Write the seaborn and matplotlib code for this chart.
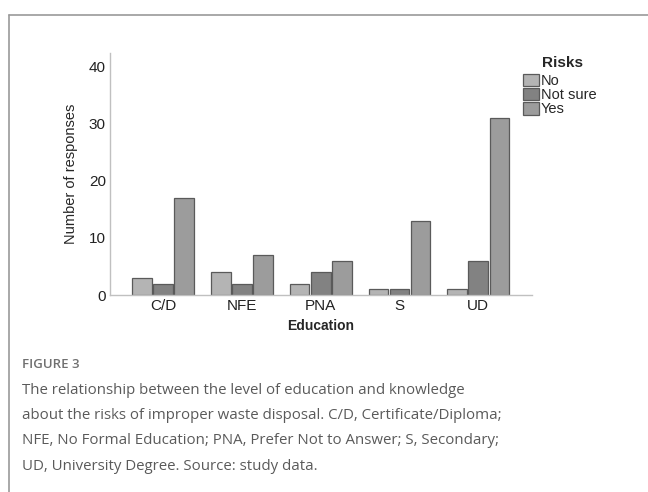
import pandas as pd
import matplotlib.pyplot as plt
import seaborn as sns
from matplotlib.patches import Patch
from matplotlib.lines import Line2D

# data
education = ['C/D', 'NFE', 'PNA', 'S', 'UD']
risks = ['No', 'Not sure', 'Yes']
no_counts = [3, 4, 2, 1, 1]
not_sure_counts = [2, 2, 4, 1, 6]
yes_counts = [17, 7, 6, 13, 31]

colors = {'No': '#b4b4b4', 'Not sure': '#828282', 'Yes': '#9c9c9c'}

df = pd.DataFrame({
    'Education': education * 3,
    'Risks': ['No'] * 5 + ['Not sure'] * 5 + ['Yes'] * 5,
    'count': no_counts + not_sure_counts + yes_counts,
})

sns.set_style('white')
plt.rcParams['font.family'] = ['Liberation Sans', 'DejaVu Sans']

fig = plt.figure(figsize=(6.48, 4.92), dpi=100)
ax = fig.add_axes([0.1698, 0.4004, 0.6512, 0.4919])

sns.barplot(data=df, x='Education', y='count', hue='Risks', order=education,
            hue_order=risks, palette=colors, edgecolor='#5a5a5a', linewidth=0.9,
            width=0.8, gap=0.06, ax=ax, legend=False)

ax.set_ylim(0, 42.3)
ax.set_xlim(-0.67, 4.68)
ax.set_yticks([0, 10, 20, 30, 40])
ax.tick_params(axis='both', length=0, labelsize=11, colors='#222222', pad=3)
for s in ['top', 'right']:
    ax.spines[s].set_visible(False)
for s in ['left', 'bottom']:
    ax.spines[s].set_color('#c0c0c0')
    ax.spines[s].set_linewidth(1.0)

ax.set_xlabel('Education', fontsize=10, fontweight='bold', labelpad=4)
ax.set_ylabel('Number of responses', fontsize=10.5, labelpad=8)

# legend (title drawn separately to get the wider gap)
handles = [Patch(facecolor=colors[r], edgecolor='#5a5a5a', linewidth=0.9) for r in risks]
leg = ax.legend(handles, risks, loc='upper left', bbox_to_anchor=(0.979, 0.915),
                frameon=False, fontsize=10.5, handlelength=1.1, handleheight=0.95,
                handletextpad=0.1, labelspacing=0.0, borderpad=0, borderaxespad=0)
ax.text(1.073, 0.959, 'Risks', transform=ax.transAxes, ha='center', va='center',
        fontsize=11, fontweight='bold')

# frame around the figure panel
fig.add_artist(Line2D([9 / 648, 9 / 648], [0, 1 - 15 / 492], transform=fig.transFigure,
                      color='#9a9a9a', linewidth=1.2))
fig.add_artist(Line2D([9 / 648, 1], [1 - 15 / 492, 1 - 15 / 492], transform=fig.transFigure,
                      color='#9a9a9a', linewidth=1.2))

# caption
cap_font = ['Open Sans', 'DejaVu Sans']
fig.text(22 / 648, 1 - 364 / 492, 'FIGURE 3', fontsize=9.5, color='#707070', va='center',
         family=cap_font, fontweight='semibold')
caption = ['The relationship between the level of education and knowledge',
           'about the risks of improper waste disposal. C/D, Certificate/Diploma;',
           'NFE, No Formal Education; PNA, Prefer Not to Answer; S, Secondary;',
           'UD, University Degree. Source: study data.']
for i, line in enumerate(caption):
    fig.text(22 / 648, 1 - (390 + i * 25.5) / 492, line, fontsize=10.8, color='#5a5a5a',
             va='center', family=cap_font)

fig.savefig('out.png', dpi=100)
